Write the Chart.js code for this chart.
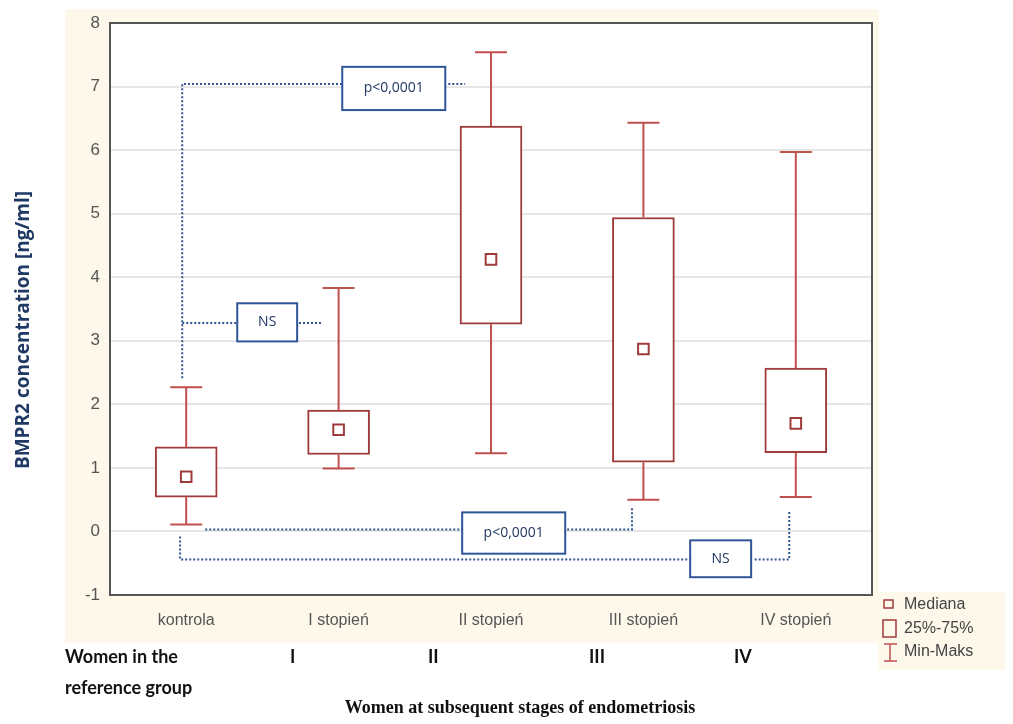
<!DOCTYPE html>
<html>
<head>
<meta charset="utf-8">
<script src="https://cdn.jsdelivr.net/npm/chart.js@4"></script>
<style>
  body { margin: 0; background: #ffffff; }
  #wrap { width: 1013px; height: 724px; }
</style>
</head>
<body>
<div id="wrap"><canvas id="box" width="1013" height="724"></canvas></div>
<script>
let categories = ["kontrola", "I stopień", "II stopień", "III stopień", "IV stopień"];
let minVals = [0.11, 0.99, 1.23, 0.50, 0.54];
let q1Vals = [0.54, 1.21, 3.26, 1.09, 1.24];
let medianVals = [0.86, 1.60, 4.28, 2.87, 1.70];
let q3Vals = [1.33, 1.91, 6.38, 4.94, 2.57];
let maxVals = [2.27, 3.83, 7.54, 6.43, 5.97];
let yTicks = [-1, 0, 1, 2, 3, 4, 5, 6, 7, 8];

// comparison brackets, in (category index, value) units
let brackets = [
  { label: "p<0,0001", box: [1.024, 1.70, 7.31, 6.63], y: 7.04,
    left: [[-0.026, 2.41], [-0.026, 7.04], [1.024, 7.04]],
    right: [[1.72, 7.04], [1.83, 7.04]] },
  { label: "NS", box: [0.335, 0.728, 3.59, 2.99], y: 3.28,
    left: [[-0.026, 3.28], [0.335, 3.28]],
    right: [[0.74, 3.28], [0.886, 3.28]] },
  { label: "p<0,0001", box: [1.811, 2.487, 0.30, -0.35], y: 0.03,
    left: [[0.125, 0.03], [1.811, 0.03]],
    right: [[2.50, 0.03], [2.925, 0.03], [2.925, 0.38]] },
  { label: "NS", box: [3.307, 3.707, -0.14, -0.72], y: -0.44,
    left: [[-0.04, -0.08], [-0.04, -0.44], [3.307, -0.44]],
    right: [[3.73, -0.44], [3.957, -0.44], [3.957, 0.33]] }
];

let boxColor = "#9e3b3b";
let whiskerColor = "#c0504d";
let noteColor = "#2f5597";

let background = {
  id: "background",
  beforeDraw(chart) {
    let c = chart.ctx;
    let a = chart.chartArea;
    c.save();
    c.fillStyle = "#fdf8ea";
    c.fillRect(65, 9, 814, 634);
    c.fillRect(878, 592, 127, 78);
    c.fillStyle = "#ffffff";
    c.fillRect(a.left, a.top, a.right - a.left, a.bottom - a.top);
    c.restore();
  },
  afterDraw(chart) {
    let c = chart.ctx;
    let a = chart.chartArea;
    c.save();
    c.strokeStyle = "#555555";
    c.lineWidth = 2;
    c.strokeRect(a.left, a.top, a.right - a.left, a.bottom - a.top);

    // y title
    c.translate(24, 330);
    c.rotate(-Math.PI / 2);
    c.fillStyle = "#1f3864";
    c.font = "bold 19px 'Open Sans', sans-serif";
    c.textAlign = "center";
    c.textBaseline = "middle";
    c.fillText("BMPR2 concentration [ng/ml]", 0, 0);
    c.setTransform(1, 0, 0, 1, 0, 0);

    // bottom group labels
    c.fillStyle = "#111111";
    c.font = "bold 18px Lato, sans-serif";
    c.textAlign = "left";
    c.fillText("Women in the", 65, 657);
    c.fillText("reference group", 65, 688);
    c.fillText("I", 290, 657);
    c.fillText("II", 428, 657);
    c.fillText("III", 589, 657);
    c.fillText("IV", 734, 657);
    c.font = "bold 18px 'Liberation Serif', serif";
    c.textAlign = "center";
    c.fillText("Women at subsequent stages of endometriosis", 520, 708);

    // legend
    c.font = "16px 'Liberation Sans', sans-serif";
    c.fillStyle = "#444444";
    c.textAlign = "left";
    c.fillText("Mediana", 904, 605);
    c.fillText("25%-75%", 904, 629);
    c.fillText("Min-Maks", 904, 652);
    c.strokeStyle = boxColor;
    c.lineWidth = 1.5;
    c.strokeRect(884, 600, 9, 8);
    c.strokeRect(883, 620, 13, 17);
    c.strokeStyle = whiskerColor;
    c.beginPath();
    c.moveTo(890, 644); c.lineTo(890, 661);
    c.moveTo(884, 644); c.lineTo(897, 644);
    c.moveTo(884, 661); c.lineTo(897, 661);
    c.stroke();
    c.restore();
  }
};

let whiskers = {
  id: "whiskers",
  afterDatasetsDraw(chart) {
    let c = chart.ctx;
    let x = chart.scales.x;
    let y = chart.scales.y;
    c.save();
    c.strokeStyle = whiskerColor;
    c.lineWidth = 2;
    categories.forEach((cat, i) => {
      let px = x.getPixelForValue(i);
      c.beginPath();
      c.moveTo(px, y.getPixelForValue(q3Vals[i]));
      c.lineTo(px, y.getPixelForValue(maxVals[i]));
      c.moveTo(px, y.getPixelForValue(q1Vals[i]));
      c.lineTo(px, y.getPixelForValue(minVals[i]));
      c.moveTo(px - 16, y.getPixelForValue(maxVals[i]));
      c.lineTo(px + 16, y.getPixelForValue(maxVals[i]));
      c.moveTo(px - 16, y.getPixelForValue(minVals[i]));
      c.lineTo(px + 16, y.getPixelForValue(minVals[i]));
      c.stroke();
    });

    // brackets
    let step = x.getPixelForValue(1) - x.getPixelForValue(0);
    let X = (v) => x.getPixelForValue(0) + v * step;
    c.strokeStyle = noteColor;
    c.lineWidth = 2;
    c.setLineDash([2, 2]);
    brackets.forEach((b) => {
      [b.left, b.right].forEach((pts) => {
        c.beginPath();
        pts.forEach((p, k) => {
          if (k === 0) c.moveTo(X(p[0]), y.getPixelForValue(p[1]));
          else c.lineTo(X(p[0]), y.getPixelForValue(p[1]));
        });
        c.stroke();
      });
    });
    c.setLineDash([]);
    c.font = "14px 'Open Sans', sans-serif";
    c.textAlign = "center";
    c.textBaseline = "middle";
    brackets.forEach((b) => {
      let x0 = X(b.box[0]);
      let x1 = X(b.box[1]);
      let y0 = y.getPixelForValue(b.box[2]);
      let y1 = y.getPixelForValue(b.box[3]);
      c.fillStyle = "#ffffff";
      c.fillRect(x0, y0, x1 - x0, y1 - y0);
      c.strokeStyle = noteColor;
      c.lineWidth = 2;
      c.strokeRect(x0, y0, x1 - x0, y1 - y0);
      c.fillStyle = "#1f3864";
      c.fillText(b.label, (x0 + x1) / 2, (y0 + y1) / 2);
    });
    c.restore();
  }
};

let ctx1 = document.getElementById("box").getContext("2d");
let box = new Chart(ctx1, {
  type: "bar",
  data: {
    labels: categories,
    datasets: [
      {
        label: "25%-75%",
        data: q1Vals.map((q, i) => [q, q3Vals[i]]),
        backgroundColor: "#ffffff",
        borderColor: boxColor,
        borderWidth: 2,
        borderSkipped: false,
        barThickness: 62,
        order: 2,
      },
      {
        type: "line",
        label: "Mediana",
        data: medianVals,
        showLine: false,
        pointStyle: "rect",
        pointRadius: 7.5,
        pointBackgroundColor: "#ffffff",
        pointBorderColor: boxColor,
        pointBorderWidth: 2,
        order: 1,
      },
    ],
  },
  options: {
    responsive: false,
    animation: false,
    layout: {
      padding: { left: 65, right: 141, top: 23, bottom: 84 },
    },
    plugins: {
      legend: { display: false },
      tooltip: { enabled: false },
    },
    scales: {
      x: {
        grid: { display: false },
        border: { color: "#555555", width: 2 },
        ticks: {
          color: "#555555",
          padding: 8,
          font: { family: "'Liberation Sans', sans-serif", size: 16 },
        },
        afterFit: (s) => { s.height = 45; },
      },
      y: {
        min: -1,
        max: 8,
        afterBuildTicks: (s) => { s.ticks = yTicks.map((v) => ({ value: v })); },
        grid: { color: "#e6e6e6", lineWidth: 2, drawTicks: false },
        border: { color: "#555555", width: 2 },
        ticks: {
          color: "#555555",
          padding: 10,
          font: { family: "'Liberation Sans', sans-serif", size: 17 },
        },
        afterFit: (s) => { s.width = 45; },
      },
    },
  },
  plugins: [background, whiskers],
});
</script>
</body>
</html>
